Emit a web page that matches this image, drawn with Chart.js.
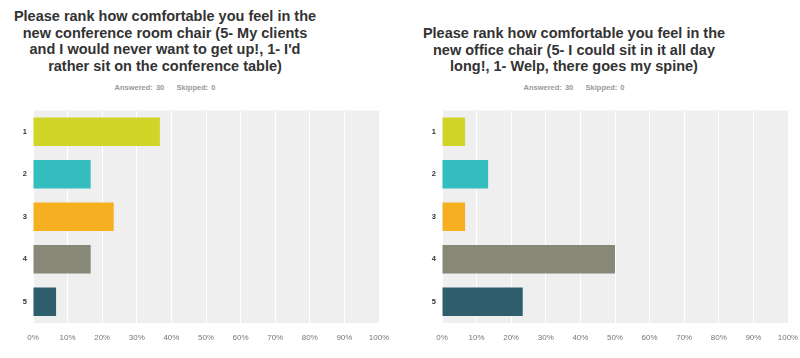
<!DOCTYPE html>
<html>
<head>
<meta charset="utf-8">
<script src="https://cdn.jsdelivr.net/npm/chart.js@4"></script>
<style>
  body { margin: 0; background: #fff; font-family: "Liberation Sans", Arial, sans-serif; }
  .panel { position: absolute; top: 0; width: 400px; height: 358px; }
  .title { position: absolute; left: 0; width: 330px; text-align: center; font-weight: bold; font-size: 14.5px; line-height: 16.5px; color: #333; }
  .sub { position: absolute; top: 83px; left: 0; width: 330px; text-align: center; font-weight: bold; font-size: 7.5px; color: #999; word-spacing: 1px; }
  .wrap { position: absolute; top: 100px; left: 0; width: 400px; height: 258px; }
</style>
</head>
<body>
<div class="panel" style="left:0">
  <div class="title" style="top:8px">Please rank how comfortable you feel in the<br>new conference room chair (5- My clients<br>and I would never want to get up!, 1- I'd<br>rather sit on the conference table)</div>
  <div class="sub">Answered: 30&nbsp;&nbsp;&nbsp;&nbsp;Skipped: 0</div>
  <div class="wrap"><canvas id="chartA"></canvas></div>
</div>
<div class="panel" style="left:409px">
  <div class="title" style="top:25px">Please rank how comfortable you feel in the<br>new office chair (5- I could sit in it all day<br>long!, 1- Welp, there goes my spine)</div>
  <div class="sub">Answered: 30&nbsp;&nbsp;&nbsp;&nbsp;Skipped: 0</div>
  <div class="wrap"><canvas id="chartB"></canvas></div>
</div>
<script>
const ratings = ['1', '2', '3', '4', '5'];
const conferencePct = [36.67, 16.67, 23.33, 16.67, 6.67];
const officePct = [6.67, 13.33, 6.67, 50, 23.33];
const barColors = ['#d0d527', '#33bdbe', '#f5af21', '#878878', '#2e5e6c'];
const xTicks = [0, 10, 20, 30, 40, 50, 60, 70, 80, 90, 100];

const plotBg = {
  id: 'plotBg',
  beforeDraw(chart) {
    const a = chart.chartArea, ctx = chart.ctx;
    ctx.save();
    ctx.fillStyle = '#efefef';
    ctx.fillRect(a.left, a.top, a.right - a.left, a.bottom - a.top);
    ctx.restore();
  }
};

function makeChart(id, values) {
  return new Chart(document.getElementById(id), {
    type: 'bar',
    data: {
      labels: ratings,
      datasets: [{ data: values, backgroundColor: barColors, barPercentage: 0.67, categoryPercentage: 1 }]
    },
    options: {
      indexAxis: 'y',
      responsive: true,
      maintainAspectRatio: false,
      animation: false,
      layout: { padding: { top: 7, right: 21, left: 0, bottom: 0 } },
      plugins: { legend: { display: false }, tooltip: { enabled: false } },
      scales: {
        x: {
          min: 0, max: 100,
          afterBuildTicks: s => { s.ticks = xTicks.map(v => ({ value: v })); },
          afterFit: s => { s.height = 35; },
          grid: { color: '#ffffff', lineWidth: 1, drawTicks: false },
          border: { display: false },
          ticks: { callback: v => v + '%', color: '#777', font: { size: 8, family: 'Liberation Sans' }, padding: 10, maxRotation: 0, autoSkip: false }
        },
        y: {
          afterFit: s => { s.width = 33; },
          grid: { display: false, drawTicks: false },
          border: { display: false },
          ticks: { color: '#333', font: { size: 7.5, weight: 'bold', family: 'Liberation Sans' }, padding: 6 }
        }
      }
    },
    plugins: [plotBg]
  });
}

makeChart('chartA', conferencePct);
makeChart('chartB', officePct);
</script>
</body>
</html>
